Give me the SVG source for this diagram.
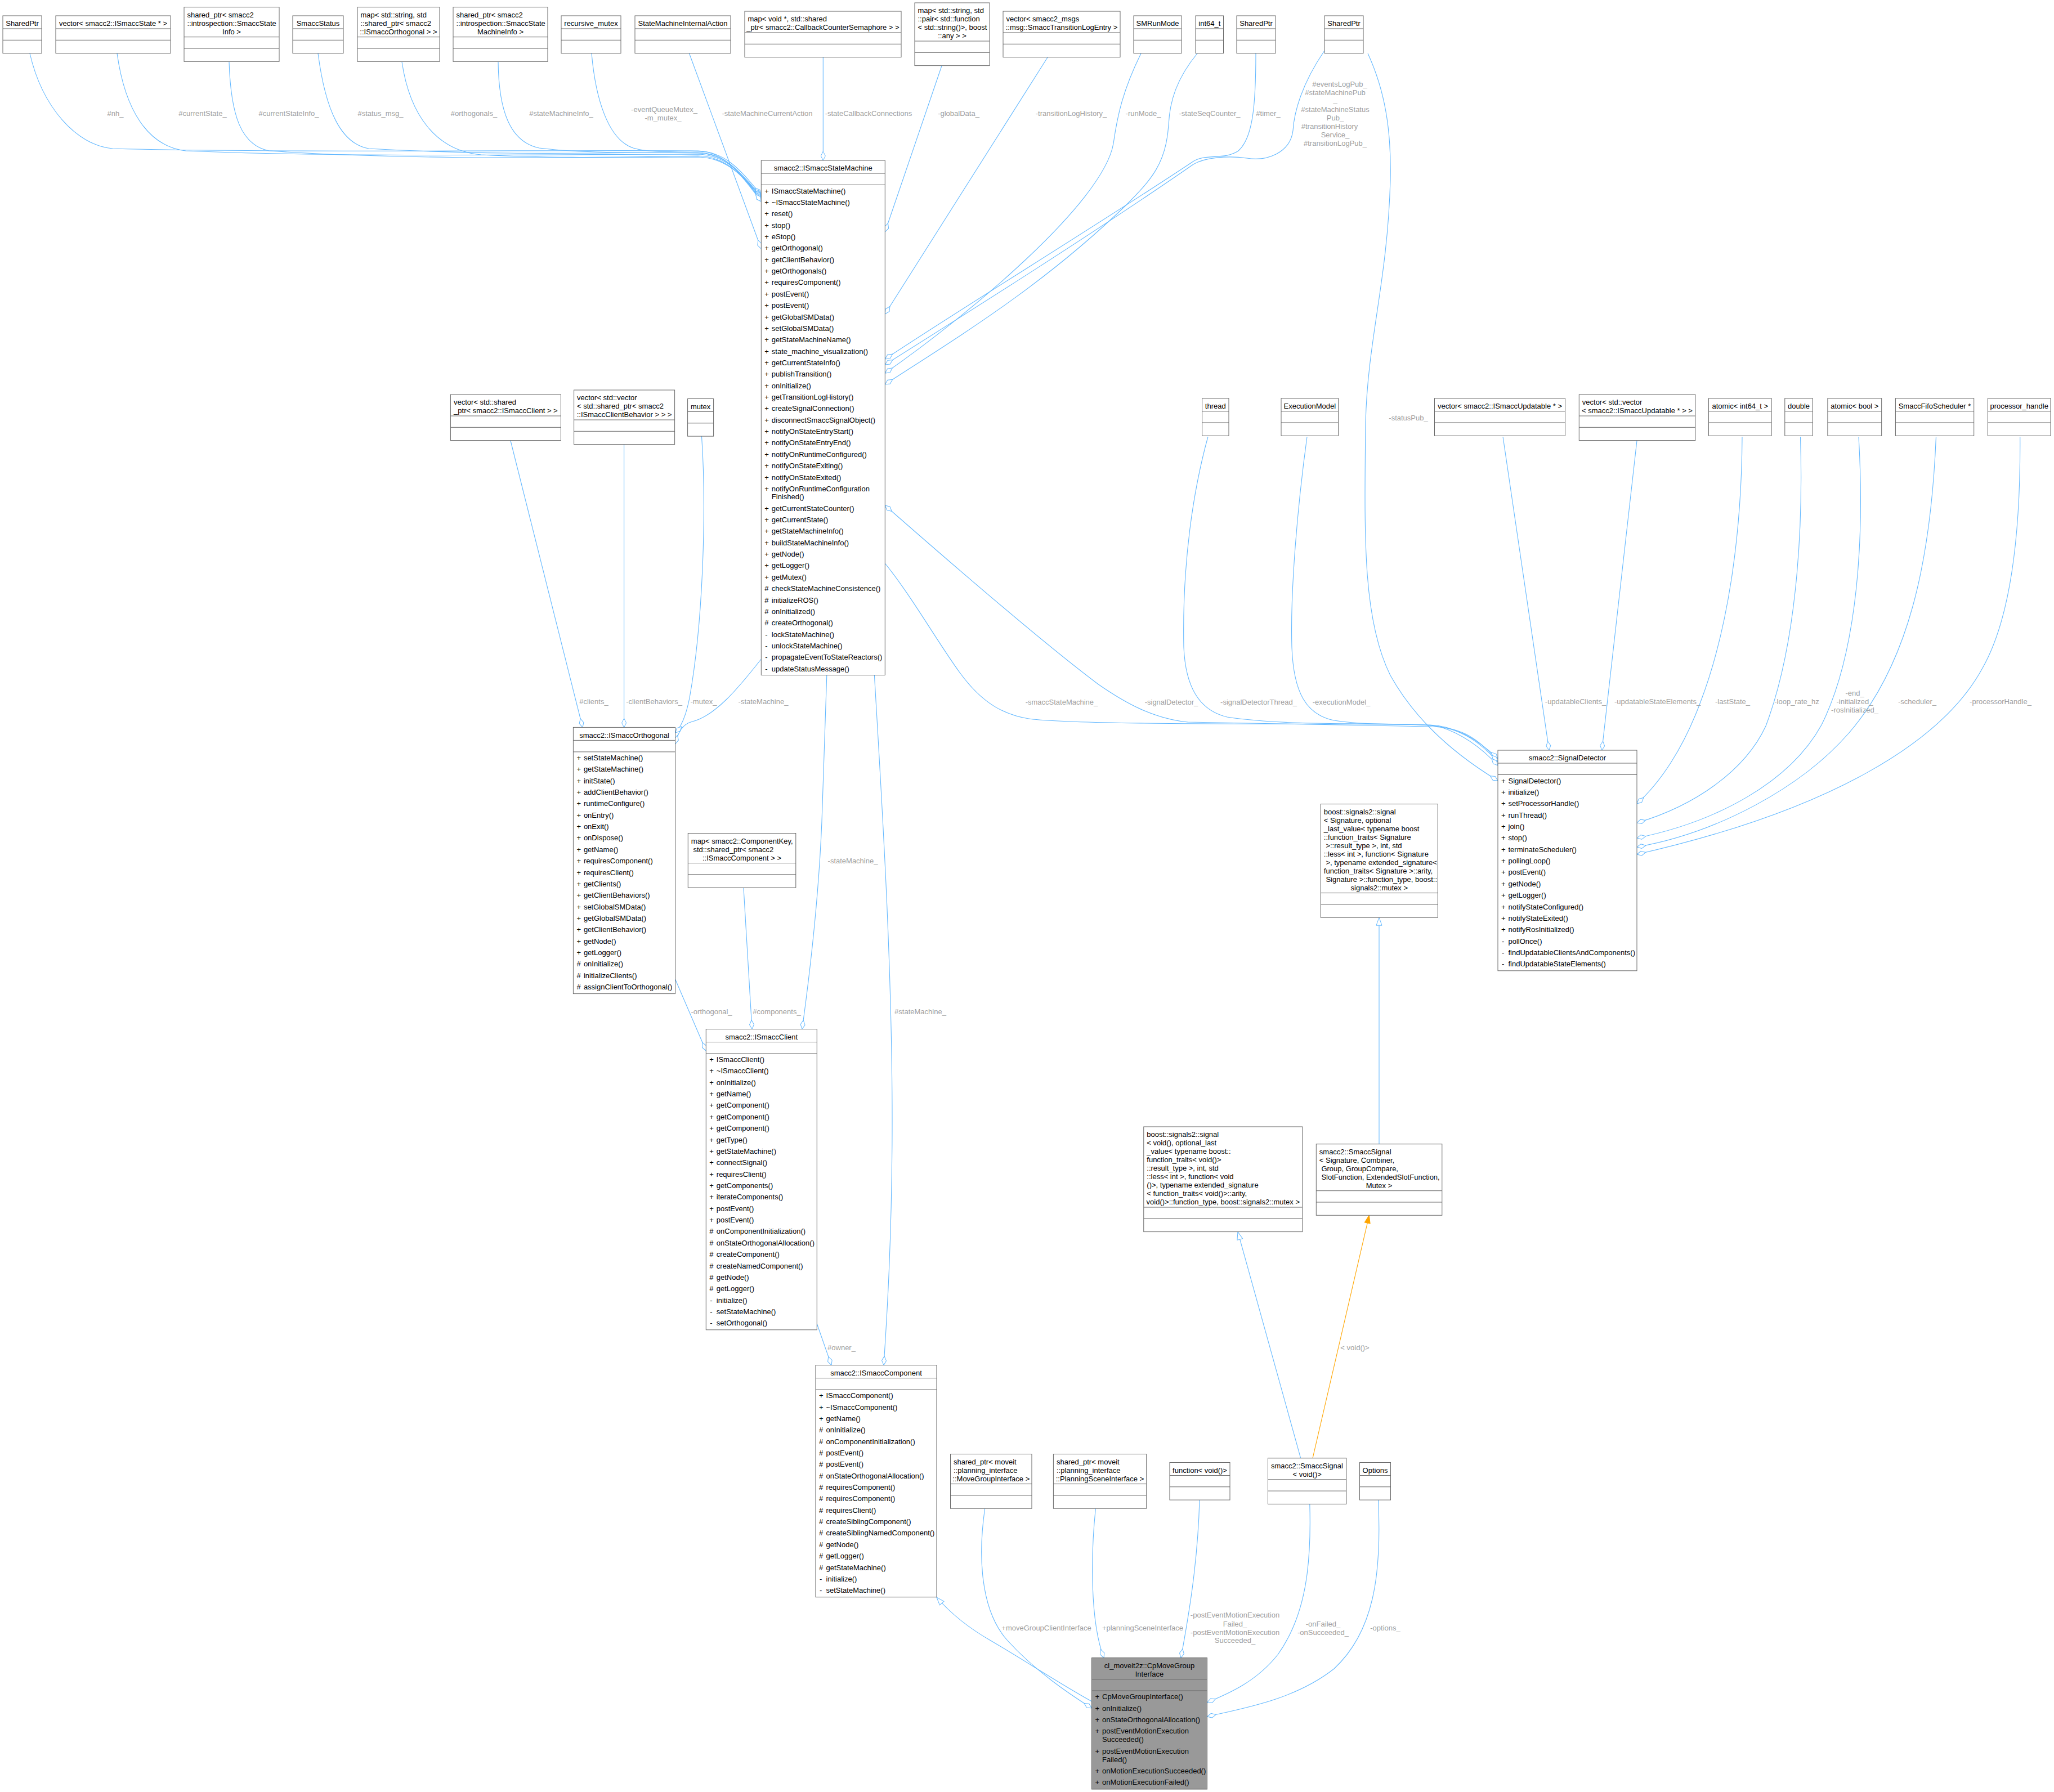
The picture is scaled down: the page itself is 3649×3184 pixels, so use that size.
<svg xmlns="http://www.w3.org/2000/svg" width="3649" height="3184" viewBox="0 0 3649 3184">
<style>
.b{fill:#fff;stroke:#666;stroke-width:1}
.m{fill:#999;stroke:#666;stroke-width:1}
.s{fill:none;stroke:#666;stroke-width:1}
text{font-family:"Liberation Sans",Arial,sans-serif;font-size:13px;fill:#000}
.c{text-anchor:middle}
.lb{fill:#9e9e9e;text-anchor:middle}
.e{fill:none;stroke:#63b8ff;stroke-width:1.1;marker-end:url(#d)}
.i{fill:none;stroke:#63b8ff;stroke-width:1.1;marker-end:url(#t)}
.o{fill:none;stroke:#ffa500;stroke-width:1.1;marker-end:url(#to)}
</style>
<defs>
<marker id="d" viewBox="0 0 18 10" refX="17" refY="5" markerWidth="18" markerHeight="10" orient="auto" markerUnits="userSpaceOnUse" overflow="visible"><path d="M1,5 L9,1 L17,5 L9,9 Z" fill="#fff" stroke="#63b8ff" stroke-width="1"/></marker>
<marker id="t" viewBox="0 0 16 12" refX="15" refY="6" markerWidth="16" markerHeight="12" orient="auto" markerUnits="userSpaceOnUse" overflow="visible"><path d="M1,1 L15,6 L1,11 Z" fill="#fff" stroke="#63b8ff" stroke-width="1"/></marker>
<marker id="to" viewBox="0 0 16 12" refX="15" refY="6" markerWidth="16" markerHeight="12" orient="auto" markerUnits="userSpaceOnUse" overflow="visible"><path d="M1,1 L15,6 L1,11 Z" fill="#ffa500" stroke="#ffa500" stroke-width="1"/></marker>
</defs>
<rect width="3649" height="3184" fill="#fff"/>

<g id="edges">
<path class="e" d="M53,95 C75,190 135,258 200,264 C500,272 1000,266 1240,268 C1295,270 1322,312 1352.3,346"/>
<path class="e" d="M208,95 C222,195 262,260 330,268 C600,280 1000,274 1240,274 C1295,276 1322,316 1352.3,348"/>
<path class="e" d="M407,110 C410,205 428,258 478,268 C700,284 1000,280 1240,279 C1295,280 1322,318 1352.3,350"/>
<path class="e" d="M565,95 C578,195 605,255 655,264 C900,278 1100,270 1240,271 C1295,272 1322,316 1352.3,352"/>
<path class="e" d="M714,110 C728,205 775,268 855,275 C1000,283 1150,278 1240,277 C1295,278 1322,318 1352.3,354"/>
<path class="e" d="M885,110 C886,195 905,252 958,263 C1050,274 1150,270 1240,272 C1295,273 1322,317 1352.3,356"/>
<path class="e" d="M1051,95 C1058,175 1080,248 1125,263 C1170,276 1220,264 1255,270 C1295,278 1322,318 1352.3,358"/>
<path class="e" d="M1224.5,95 L1352.3,442"/>
<path class="e" d="M1462.3,102 L1462.3,285"/>
<path class="e" d="M1673,117 L1572.3,412"/>
<path class="e" d="M1861,102 L1572.3,558"/>
<path class="e" d="M2027,95 C1995,160 1985,205 1978,255 C1960,360 1720,560 1572.3,663"/>
<path class="e" d="M2127,95 C2090,140 2078,180 2076,222 C2072,290 2045,320 2000,365 C1850,510 1700,600 1572.3,683"/>
<path class="e" d="M2231,95 C2231,185 2226,245 2200,268 C2175,285 2140,272 2118,288 C1950,400 1720,540 1572.3,638"/>
<path class="e" d="M2353,90 C2312,150 2299,200 2297,232 C2292,272 2250,287 2215,281 C2180,276 2140,280 2120,292 C1950,410 1720,555 1572.3,648"/>
<path class="e" d="M2661,1352 C2620,1305 2590,1292 2540,1291 L2110,1283 C2050,1277 2000,1250 1950,1215 C1850,1140 1700,1010 1572.3,898"/>
<path class="e" d="M1572.3,1001 C1620,1060 1665,1140 1705,1195 C1745,1250 1785,1272 1835,1278 C1950,1290 2400,1284 2540,1288 C2590,1290 2630,1318 2661,1348"/>
<path class="e" d="M2146,776 C2120,870 2100,1000 2103,1150 C2106,1220 2130,1262 2180,1274 C2300,1292 2450,1282 2540,1289 C2600,1293 2635,1325 2661,1354"/>
<path class="e" d="M2322,776 C2305,900 2292,1050 2295,1150 C2298,1230 2320,1270 2370,1280 C2450,1292 2520,1282 2560,1292 C2600,1305 2635,1332 2661,1360"/>
<path class="e" d="M2430,95 C2460,160 2472,230 2470,320 C2465,500 2430,600 2426,750 C2424,950 2420,1100 2470,1200 C2520,1290 2600,1350 2661,1387"/>
<path class="e" d="M2670,776 L2752,1333"/>
<path class="e" d="M2908,783 L2845.8,1333"/>
<path class="e" d="M3095,776 C3094,950 3070,1120 3020,1250 C2990,1330 2950,1390 2908,1428"/>
<path class="e" d="M3198.5,776 C3204,950 3190,1150 3137,1290 C3100,1370 3010,1432 2908,1462"/>
<path class="e" d="M3302,776 C3315,1000 3290,1180 3236,1288 C3180,1390 3050,1460 2908,1489"/>
<path class="e" d="M3439.5,776 C3430,1000 3390,1180 3285,1302 C3200,1400 3050,1480 2908,1505"/>
<path class="e" d="M3588.7,776 C3590,1000 3560,1120 3522,1187 C3450,1320 3250,1440 2908,1518"/>
<path class="e" d="M907,783 L1035,1292.4"/>
<path class="e" d="M1108.6,790 L1108.6,1292.4"/>
<path class="e" d="M1246.5,775 C1255,900 1250,1100 1225,1240 C1218,1275 1210,1292 1199.6,1302"/>
<path class="e" d="M1352.3,1171 C1310,1225 1270,1272 1230,1282 C1212,1287 1205,1300 1199.6,1322"/>
<path class="e" d="M1199.6,1740 L1254.3,1867"/>
<path class="e" d="M1321,1578 L1336,1828.5"/>
<path class="e" d="M1468.8,1199.5 L1460,1460 C1455,1580 1440,1720 1425,1828.5"/>
<path class="e" d="M1553.4,1199.5 C1565,1400 1585,1700 1585,1990 C1585,2200 1575,2350 1570,2425.6"/>
<path class="e" d="M1451.3,2352 L1477,2425.6"/>
<path class="i" d="M1939.5,3023 C1880,2990 1820,2950 1760,2915 C1720,2892 1690,2868 1664,2838"/>
<path class="e" d="M1749.7,2680.2 C1738,2760 1740,2860 1790,2915 C1840,2970 1900,3010 1939.5,3035"/>
<path class="e" d="M1946.4,2680.2 C1938,2760 1936,2880 1961,2945.6"/>
<path class="e" d="M2131,2665 C2128,2780 2110,2880 2098,2945.6"/>
<path class="e" d="M2326.8,2672.4 C2330,2780 2320,2870 2270,2940 C2230,2990 2180,3010 2144.6,3025"/>
<path class="e" d="M2448.5,2665 C2455,2800 2440,2900 2370,2965 C2300,3020 2210,3035 2144.6,3050"/>
<path class="o" d="M2332,2590.8 L2432.4,2159.3"/>
<path class="i" d="M2310.7,2590.8 L2199,2188.6"/>
<path class="i" d="M2450,2032.7 L2450,1630.2"/>
<text class="lb" x="205" y="206">#nh_</text>
<text class="lb" x="360" y="206">#currentState_</text>
<text class="lb" x="513" y="206">#currentStateInfo_</text>
<text class="lb" x="676" y="206">#status_msg_</text>
<text class="lb" x="842" y="206">#orthogonals_</text>
<text class="lb" x="997" y="206">#stateMachineInfo_</text>
<text class="lb" x="1180" y="198.5">-eventQueueMutex_</text>
<text class="lb" x="1178" y="213.5">-m_mutex_</text>
<text class="lb" x="1363" y="206">-stateMachineCurrentAction</text>
<text class="lb" x="1543" y="206">-stateCallbackConnections</text>
<text class="lb" x="1703" y="206">-globalData_</text>
<text class="lb" x="1903" y="206">-transitionLogHistory_</text>
<text class="lb" x="2031" y="206">-runMode_</text>
<text class="lb" x="2149" y="206">-stateSeqCounter_</text>
<text class="lb" x="2253" y="206">#timer_</text>
<text class="lb" x="2380" y="153.5">#eventsLogPub_</text>
<text class="lb" x="2372" y="168.5">#stateMachinePub</text>
<text class="lb" x="2372" y="181.5">_</text>
<text class="lb" x="2372" y="198.5">#stateMachineStatus</text>
<text class="lb" x="2372" y="213.5">Pub_</text>
<text class="lb" x="2362" y="228.5">#transitionHistory</text>
<text class="lb" x="2372" y="243.5">Service_</text>
<text class="lb" x="2372" y="258.5">#transitionLogPub_</text>
<text class="lb" x="1055" y="1250.5">#clients_</text>
<text class="lb" x="1162" y="1250.5">-clientBehaviors_</text>
<text class="lb" x="1250" y="1250.5">-mutex_</text>
<text class="lb" x="1356" y="1250.5">-stateMachine_</text>
<text class="lb" x="1886" y="1251.5">-smaccStateMachine_</text>
<text class="lb" x="2081" y="1251.5">-signalDetector_</text>
<text class="lb" x="2236" y="1251.5">-signalDetectorThread_</text>
<text class="lb" x="2383" y="1251.5">-executionModel_</text>
<text class="lb" x="2502" y="747.4">-statusPub_</text>
<text class="lb" x="2799" y="1251">-updatableClients_</text>
<text class="lb" x="2944.6" y="1251">-updatableStateElements_</text>
<text class="lb" x="3078" y="1251">-lastState_</text>
<text class="lb" x="3192" y="1251">-loop_rate_hz</text>
<text class="lb" x="3295" y="1236">-end_</text>
<text class="lb" x="3295" y="1251">-initialized_</text>
<text class="lb" x="3295" y="1266">-rosInitialized_</text>
<text class="lb" x="3406" y="1251">-scheduler_</text>
<text class="lb" x="3554" y="1251">-processorHandle_</text>
<text class="lb" x="1515" y="1533.5">-stateMachine_</text>
<text class="lb" x="1264" y="1802">-orthogonal_</text>
<text class="lb" x="1380" y="1802">#components_</text>
<text class="lb" x="1635" y="1802">#stateMachine_</text>
<text class="lb" x="1495" y="2398.5">#owner_</text>
<text class="lb" x="2407" y="2399">&lt; void()&gt;</text>
<text class="lb" x="1859" y="2897.3">+moveGroupClientInterface</text>
<text class="lb" x="2030" y="2897.3">+planningSceneInterface</text>
<text class="lb" x="2194" y="2874.2">-postEventMotionExecution</text>
<text class="lb" x="2194" y="2889.5">Failed_</text>
<text class="lb" x="2194" y="2904.5">-postEventMotionExecution</text>
<text class="lb" x="2194" y="2919.4">Succeeded_</text>
<text class="lb" x="2350.5" y="2889.5">-onFailed_</text>
<text class="lb" x="2350.5" y="2904.5">-onSucceeded_</text>
<text class="lb" x="2461" y="2897.3">-options_</text>
</g>

<g id="n1"><rect class="b" x="5" y="28" width="69" height="66.6"/><path class="s" d="M5,51h69M5,71.3h69"/><text class="c" x="39.5" y="46.3">SharedPtr</text></g>
<g id="n2"><rect class="b" x="99" y="28" width="204" height="66.6"/><path class="s" d="M99,51h204M99,71.3h204"/><text class="c" x="201" y="46.3">vector&lt; smacc2::ISmaccState * &gt;</text></g>
<g id="n3"><rect class="b" x="327" y="12.7" width="169" height="96.6"/><path class="s" d="M327,65.7h169M327,86h169"/><text x="332.5" y="31">shared_ptr&lt; smacc2</text><text x="332.5" y="46">::introspection::SmaccState</text><text class="c" x="411.5" y="61">Info &gt;</text></g>
<g id="n4"><rect class="b" x="520" y="28" width="90" height="66.6"/><path class="s" d="M520,51h90M520,71.3h90"/><text class="c" x="565" y="46.3">SmaccStatus</text></g>
<g id="n5"><rect class="b" x="635" y="12.7" width="146" height="96.6"/><path class="s" d="M635,65.7h146M635,86h146"/><text x="640.5" y="31">map&lt; std::string, std</text><text x="640.5" y="46">::shared_ptr&lt; smacc2</text><text class="c" x="708" y="61">::ISmaccOrthogonal &gt; &gt;</text></g>
<g id="n6"><rect class="b" x="805" y="12.7" width="168" height="96.6"/><path class="s" d="M805,65.7h168M805,86h168"/><text x="810.5" y="31">shared_ptr&lt; smacc2</text><text x="810.5" y="46">::introspection::SmaccState</text><text class="c" x="889" y="61">MachineInfo &gt;</text></g>
<g id="n7"><rect class="b" x="997" y="28" width="106" height="66.6"/><path class="s" d="M997,51h106M997,71.3h106"/><text class="c" x="1050" y="46.3">recursive_mutex</text></g>
<g id="n8"><rect class="b" x="1128" y="28" width="170" height="66.6"/><path class="s" d="M1128,51h170M1128,71.3h170"/><text class="c" x="1213" y="46.3">StateMachineInternalAction</text></g>
<g id="n9"><rect class="b" x="1323" y="20" width="278" height="81.6"/><path class="s" d="M1323,58h278M1323,78.3h278"/><text x="1328.5" y="38.3">map&lt; void *, std::shared</text><text class="c" x="1462" y="53.3">_ptr&lt; smacc2::CallbackCounterSemaphore &gt; &gt;</text></g>
<g id="n10"><rect class="b" x="1625" y="5" width="133" height="111.6"/><path class="s" d="M1625,73h133M1625,93.3h133"/><text x="1630.5" y="23.3">map&lt; std::string, std</text><text x="1630.5" y="38.3">::pair&lt; std::function</text><text x="1630.5" y="53.3">&lt; std::string()&gt;, boost</text><text class="c" x="1691.5" y="68.3">::any &gt; &gt;</text></g>
<g id="n11"><rect class="b" x="1782" y="20" width="208" height="81.6"/><path class="s" d="M1782,58h208M1782,78.3h208"/><text x="1787.5" y="38.3">vector&lt; smacc2_msgs</text><text class="c" x="1886" y="53.3">::msg::SmaccTransitionLogEntry &gt;</text></g>
<g id="n12"><rect class="b" x="2014" y="28" width="85" height="66.6"/><path class="s" d="M2014,51h85M2014,71.3h85"/><text class="c" x="2056.5" y="46.3">SMRunMode</text></g>
<g id="n13"><rect class="b" x="2124" y="28" width="49.5" height="66.6"/><path class="s" d="M2124,51h49.5M2124,71.3h49.5"/><text class="c" x="2148.8" y="46.3">int64_t</text></g>
<g id="n14"><rect class="b" x="2197" y="28" width="69" height="66.6"/><path class="s" d="M2197,51h69M2197,71.3h69"/><text class="c" x="2231.5" y="46.3">SharedPtr</text></g>
<g id="n15"><rect class="b" x="2353" y="28" width="69" height="66.6"/><path class="s" d="M2353,51h69M2353,71.3h69"/><text class="c" x="2387.5" y="46.3">SharedPtr</text></g>

<g id="n16"><rect class="b" x="1352.3" y="285" width="220" height="914.5"/><path class="s" d="M1352.3,308h220M1352.3,328.4h220"/><text class="c" x="1462.3" y="303.3">smacc2::ISmaccStateMachine</text>
<text x="1358.3" y="343.5">+<tspan x="1370.8">ISmaccStateMachine()</tspan></text>
<text x="1358.3" y="363.9">+<tspan x="1370.8">~ISmaccStateMachine()</tspan></text>
<text x="1358.3" y="384.2">+<tspan x="1370.8">reset()</tspan></text>
<text x="1358.3" y="404.6">+<tspan x="1370.8">stop()</tspan></text>
<text x="1358.3" y="424.9">+<tspan x="1370.8">eStop()</tspan></text>
<text x="1358.3" y="445.3">+<tspan x="1370.8">getOrthogonal()</tspan></text>
<text x="1358.3" y="465.7">+<tspan x="1370.8">getClientBehavior()</tspan></text>
<text x="1358.3" y="486">+<tspan x="1370.8">getOrthogonals()</tspan></text>
<text x="1358.3" y="506.4">+<tspan x="1370.8">requiresComponent()</tspan></text>
<text x="1358.3" y="526.7">+<tspan x="1370.8">postEvent()</tspan></text>
<text x="1358.3" y="547.1">+<tspan x="1370.8">postEvent()</tspan></text>
<text x="1358.3" y="567.5">+<tspan x="1370.8">getGlobalSMData()</tspan></text>
<text x="1358.3" y="587.8">+<tspan x="1370.8">setGlobalSMData()</tspan></text>
<text x="1358.3" y="608.2">+<tspan x="1370.8">getStateMachineName()</tspan></text>
<text x="1358.3" y="628.5">+<tspan x="1370.8">state_machine_visualization()</tspan></text>
<text x="1358.3" y="648.9">+<tspan x="1370.8">getCurrentStateInfo()</tspan></text>
<text x="1358.3" y="669.3">+<tspan x="1370.8">publishTransition()</tspan></text>
<text x="1358.3" y="689.6">+<tspan x="1370.8">onInitialize()</tspan></text>
<text x="1358.3" y="710">+<tspan x="1370.8">getTransitionLogHistory()</tspan></text>
<text x="1358.3" y="730.3">+<tspan x="1370.8">createSignalConnection()</tspan></text>
<text x="1358.3" y="750.7">+<tspan x="1370.8">disconnectSmaccSignalObject()</tspan></text>
<text x="1358.3" y="771.1">+<tspan x="1370.8">notifyOnStateEntryStart()</tspan></text>
<text x="1358.3" y="791.4">+<tspan x="1370.8">notifyOnStateEntryEnd()</tspan></text>
<text x="1358.3" y="811.8">+<tspan x="1370.8">notifyOnRuntimeConfigured()</tspan></text>
<text x="1358.3" y="832.1">+<tspan x="1370.8">notifyOnStateExiting()</tspan></text>
<text x="1358.3" y="852.5">+<tspan x="1370.8">notifyOnStateExited()</tspan></text>
<text x="1358.3" y="872.9">+<tspan x="1370.8">notifyOnRuntimeConfiguration</tspan><tspan x="1370.8" y="887.3">Finished()</tspan></text>
<text x="1358.3" y="907.6">+<tspan x="1370.8">getCurrentStateCounter()</tspan></text>
<text x="1358.3" y="928">+<tspan x="1370.8">getCurrentState()</tspan></text>
<text x="1358.3" y="948.3">+<tspan x="1370.8">getStateMachineInfo()</tspan></text>
<text x="1358.3" y="968.7">+<tspan x="1370.8">buildStateMachineInfo()</tspan></text>
<text x="1358.3" y="989.1">+<tspan x="1370.8">getNode()</tspan></text>
<text x="1358.3" y="1009.4">+<tspan x="1370.8">getLogger()</tspan></text>
<text x="1358.3" y="1029.8">+<tspan x="1370.8">getMutex()</tspan></text>
<text x="1358.3" y="1050.1">#<tspan x="1370.8">checkStateMachineConsistence()</tspan></text>
<text x="1358.3" y="1070.5">#<tspan x="1370.8">initializeROS()</tspan></text>
<text x="1358.3" y="1090.9">#<tspan x="1370.8">onInitialized()</tspan></text>
<text x="1358.3" y="1111.2">#<tspan x="1370.8">createOrthogonal()</tspan></text>
<text x="1359.3" y="1131.6">-<tspan x="1370.8">lockStateMachine()</tspan></text>
<text x="1359.3" y="1151.9">-<tspan x="1370.8">unlockStateMachine()</tspan></text>
<text x="1359.3" y="1172.3">-<tspan x="1370.8">propagateEventToStateReactors()</tspan></text>
<text x="1359.3" y="1192.7">-<tspan x="1370.8">updateStatusMessage()</tspan></text>
</g>

<g id="n17"><rect class="b" x="800.4" y="701" width="196" height="81.6"/><path class="s" d="M800.4,739h196M800.4,759.3h196"/><text x="806" y="719.3">vector&lt; std::shared</text><text class="c" x="898.4" y="734.3">_ptr&lt; smacc2::ISmaccClient &gt; &gt;</text></g>
<g id="n18"><rect class="b" x="1019.6" y="693" width="179" height="96.6"/><path class="s" d="M1019.6,746h179M1019.6,766.3h179"/><text x="1025" y="711.3">vector&lt; std::vector</text><text x="1025" y="726.3">&lt; std::shared_ptr&lt; smacc2</text><text class="c" x="1109.1" y="741.3">::ISmaccClientBehavior &gt; &gt; &gt;</text></g>
<g id="n19"><rect class="b" x="1221.6" y="708.5" width="46" height="66.6"/><path class="s" d="M1221.6,731.5h46M1221.6,751.8h46"/><text class="c" x="1244.6" y="726.8">mutex</text></g>

<g id="n20"><rect class="b" x="1018.4" y="1292.4" width="181.2" height="473.2"/><path class="s" d="M1018.4,1315.4h181.2M1018.4,1335.9h181.2"/><text class="c" x="1109" y="1310.7">smacc2::ISmaccOrthogonal</text>
<text x="1024.4" y="1350.9">+<tspan x="1036.9">setStateMachine()</tspan></text>
<text x="1024.4" y="1371.3">+<tspan x="1036.9">getStateMachine()</tspan></text>
<text x="1024.4" y="1391.6">+<tspan x="1036.9">initState()</tspan></text>
<text x="1024.4" y="1412">+<tspan x="1036.9">addClientBehavior()</tspan></text>
<text x="1024.4" y="1432.3">+<tspan x="1036.9">runtimeConfigure()</tspan></text>
<text x="1024.4" y="1452.7">+<tspan x="1036.9">onEntry()</tspan></text>
<text x="1024.4" y="1473.1">+<tspan x="1036.9">onExit()</tspan></text>
<text x="1024.4" y="1493.4">+<tspan x="1036.9">onDispose()</tspan></text>
<text x="1024.4" y="1513.8">+<tspan x="1036.9">getName()</tspan></text>
<text x="1024.4" y="1534.1">+<tspan x="1036.9">requiresComponent()</tspan></text>
<text x="1024.4" y="1554.5">+<tspan x="1036.9">requiresClient()</tspan></text>
<text x="1024.4" y="1574.9">+<tspan x="1036.9">getClients()</tspan></text>
<text x="1024.4" y="1595.2">+<tspan x="1036.9">getClientBehaviors()</tspan></text>
<text x="1024.4" y="1615.6">+<tspan x="1036.9">setGlobalSMData()</tspan></text>
<text x="1024.4" y="1635.9">+<tspan x="1036.9">getGlobalSMData()</tspan></text>
<text x="1024.4" y="1656.3">+<tspan x="1036.9">getClientBehavior()</tspan></text>
<text x="1024.4" y="1676.7">+<tspan x="1036.9">getNode()</tspan></text>
<text x="1024.4" y="1697">+<tspan x="1036.9">getLogger()</tspan></text>
<text x="1024.4" y="1717.4">#<tspan x="1036.9">onInitialize()</tspan></text>
<text x="1024.4" y="1737.7">#<tspan x="1036.9">initializeClients()</tspan></text>
<text x="1024.4" y="1758.1">#<tspan x="1036.9">assignClientToOrthogonal()</tspan></text>
</g>

<g id="n21"><rect class="b" x="1222.3" y="1480.5" width="191.5" height="96.6"/><path class="s" d="M1222.3,1533.5h191.5M1222.3,1553.8h191.5"/><text x="1227.8" y="1498.8">map&lt; smacc2::ComponentKey,</text><text x="1227.8" y="1513.8">&#160;std::shared_ptr&lt; smacc2</text><text class="c" x="1318" y="1528.8">::ISmaccComponent &gt; &gt;</text></g>

<g id="n22"><rect class="b" x="1254.3" y="1828.5" width="197" height="534.3"/><path class="s" d="M1254.3,1851.5h197M1254.3,1872h197"/><text class="c" x="1352.8" y="1846.8">smacc2::ISmaccClient</text>
<text x="1260.3" y="1887">+<tspan x="1272.8">ISmaccClient()</tspan></text>
<text x="1260.3" y="1907.4">+<tspan x="1272.8">~ISmaccClient()</tspan></text>
<text x="1260.3" y="1927.7">+<tspan x="1272.8">onInitialize()</tspan></text>
<text x="1260.3" y="1948.1">+<tspan x="1272.8">getName()</tspan></text>
<text x="1260.3" y="1968.4">+<tspan x="1272.8">getComponent()</tspan></text>
<text x="1260.3" y="1988.8">+<tspan x="1272.8">getComponent()</tspan></text>
<text x="1260.3" y="2009.2">+<tspan x="1272.8">getComponent()</tspan></text>
<text x="1260.3" y="2029.5">+<tspan x="1272.8">getType()</tspan></text>
<text x="1260.3" y="2049.9">+<tspan x="1272.8">getStateMachine()</tspan></text>
<text x="1260.3" y="2070.2">+<tspan x="1272.8">connectSignal()</tspan></text>
<text x="1260.3" y="2090.6">+<tspan x="1272.8">requiresClient()</tspan></text>
<text x="1260.3" y="2111">+<tspan x="1272.8">getComponents()</tspan></text>
<text x="1260.3" y="2131.3">+<tspan x="1272.8">iterateComponents()</tspan></text>
<text x="1260.3" y="2151.7">+<tspan x="1272.8">postEvent()</tspan></text>
<text x="1260.3" y="2172">+<tspan x="1272.8">postEvent()</tspan></text>
<text x="1260.3" y="2192.4">#<tspan x="1272.8">onComponentInitialization()</tspan></text>
<text x="1260.3" y="2212.8">#<tspan x="1272.8">onStateOrthogonalAllocation()</tspan></text>
<text x="1260.3" y="2233.1">#<tspan x="1272.8">createComponent()</tspan></text>
<text x="1260.3" y="2253.5">#<tspan x="1272.8">createNamedComponent()</tspan></text>
<text x="1260.3" y="2273.8">#<tspan x="1272.8">getNode()</tspan></text>
<text x="1260.3" y="2294.2">#<tspan x="1272.8">getLogger()</tspan></text>
<text x="1261.3" y="2314.6">-<tspan x="1272.8">initialize()</tspan></text>
<text x="1261.3" y="2334.9">-<tspan x="1272.8">setStateMachine()</tspan></text>
<text x="1261.3" y="2355.3">-<tspan x="1272.8">setOrthogonal()</tspan></text>
</g>

<g id="n23"><rect class="b" x="1449" y="2425.6" width="215" height="412.1"/><path class="s" d="M1449,2448.6h215M1449,2469.1h215"/><text class="c" x="1556.5" y="2443.9">smacc2::ISmaccComponent</text>
<text x="1455" y="2484.1">+<tspan x="1467.5">ISmaccComponent()</tspan></text>
<text x="1455" y="2504.5">+<tspan x="1467.5">~ISmaccComponent()</tspan></text>
<text x="1455" y="2524.8">+<tspan x="1467.5">getName()</tspan></text>
<text x="1455" y="2545.2">#<tspan x="1467.5">onInitialize()</tspan></text>
<text x="1455" y="2565.5">#<tspan x="1467.5">onComponentInitialization()</tspan></text>
<text x="1455" y="2585.9">#<tspan x="1467.5">postEvent()</tspan></text>
<text x="1455" y="2606.3">#<tspan x="1467.5">postEvent()</tspan></text>
<text x="1455" y="2626.6">#<tspan x="1467.5">onStateOrthogonalAllocation()</tspan></text>
<text x="1455" y="2647">#<tspan x="1467.5">requiresComponent()</tspan></text>
<text x="1455" y="2667.3">#<tspan x="1467.5">requiresComponent()</tspan></text>
<text x="1455" y="2687.7">#<tspan x="1467.5">requiresClient()</tspan></text>
<text x="1455" y="2708.1">#<tspan x="1467.5">createSiblingComponent()</tspan></text>
<text x="1455" y="2728.4">#<tspan x="1467.5">createSiblingNamedComponent()</tspan></text>
<text x="1455" y="2748.8">#<tspan x="1467.5">getNode()</tspan></text>
<text x="1455" y="2769.1">#<tspan x="1467.5">getLogger()</tspan></text>
<text x="1455" y="2789.5">#<tspan x="1467.5">getStateMachine()</tspan></text>
<text x="1456" y="2809.9">-<tspan x="1467.5">initialize()</tspan></text>
<text x="1456" y="2830.2">-<tspan x="1467.5">setStateMachine()</tspan></text>
</g>

<g id="n24"><rect class="b" x="1688.5" y="2583.6" width="144.5" height="96.6"/><path class="s" d="M1688.5,2636.6h144.5M1688.5,2656.9h144.5"/><text x="1694" y="2601.9">shared_ptr&lt; moveit</text><text x="1694" y="2616.9">::planning_interface</text><text class="c" x="1760.8" y="2631.9">::MoveGroupInterface &gt;</text></g>
<g id="n25"><rect class="b" x="1871.4" y="2583.6" width="165.3" height="96.6"/><path class="s" d="M1871.4,2636.6h165.3M1871.4,2656.9h165.3"/><text x="1877" y="2601.9">shared_ptr&lt; moveit</text><text x="1877" y="2616.9">::planning_interface</text><text class="c" x="1954" y="2631.9">::PlanningSceneInterface &gt;</text></g>
<g id="n26"><rect class="b" x="2078" y="2598.5" width="107" height="66.6"/><path class="s" d="M2078,2621.5h107M2078,2641.8h107"/><text class="c" x="2131.5" y="2616.8">function&lt; void()&gt;</text></g>
<g id="n27"><rect class="b" x="2252.5" y="2590.8" width="139.3" height="81.6"/><path class="s" d="M2252.5,2628.8h139.3M2252.5,2649.1h139.3"/><text x="2258" y="2609.1">smacc2::SmaccSignal</text><text class="c" x="2322.2" y="2624.1">&lt; void()&gt;</text></g>
<g id="n28"><rect class="b" x="2415.5" y="2598.5" width="55" height="66.6"/><path class="s" d="M2415.5,2621.5h55M2415.5,2641.8h55"/><text class="c" x="2443" y="2616.8">Options</text></g>

<g id="n29"><rect class="m" x="1939.5" y="2945.6" width="205" height="233.4"/><path class="s" d="M1939.5,2983.6h205M1939.5,3004h205"/><text class="c" x="2042" y="2963.9">cl_moveit2z::CpMoveGroup</text><text class="c" x="2042" y="2978.9">Interface</text>
<text x="1945.5" y="3019.4">+<tspan x="1958">CpMoveGroupInterface()</tspan></text>
<text x="1945.5" y="3039.9">+<tspan x="1958">onInitialize()</tspan></text>
<text x="1945.5" y="3060.4">+<tspan x="1958">onStateOrthogonalAllocation()</tspan></text>
<text x="1945.5" y="3080.4">+<tspan x="1958">postEventMotionExecution</tspan><tspan x="1958" y="3095.3">Succeeded()</tspan></text>
<text x="1945.5" y="3115.8">+<tspan x="1958">postEventMotionExecution</tspan><tspan x="1958" y="3130.7">Failed()</tspan></text>
<text x="1945.5" y="3151.2">+<tspan x="1958">onMotionExecutionSucceeded()</tspan></text>
<text x="1945.5" y="3171.2">+<tspan x="1958">onMotionExecutionFailed()</tspan></text>
</g>

<g id="n30"><rect class="b" x="2346.3" y="1428.6" width="208" height="201.6"/><path class="s" d="M2346.3,1586.6h208M2346.3,1606.9h208"/>
<text x="2351.8" y="1446.9">boost::signals2::signal</text>
<text x="2351.8" y="1461.9">&lt; Signature, optional</text>
<text x="2351.8" y="1476.9">_last_value&lt; typename boost</text>
<text x="2351.8" y="1491.9">::function_traits&lt; Signature</text>
<text x="2351.8" y="1506.9">&#160;&gt;::result_type &gt;, int, std</text>
<text x="2351.8" y="1521.9">::less&lt; int &gt;, function&lt; Signature</text>
<text x="2351.8" y="1536.9">&#160;&gt;, typename extended_signature&lt;</text>
<text x="2351.8" y="1551.9">function_traits&lt; Signature &gt;::arity,</text>
<text x="2351.8" y="1566.9">&#160;Signature &gt;::function_type, boost::</text>
<text class="c" x="2450.3" y="1581.9">signals2::mutex &gt;</text>
</g>
<g id="n31"><rect class="b" x="2031.8" y="2002" width="282" height="186.6"/><path class="s" d="M2031.8,2145h282M2031.8,2165.3h282"/>
<text x="2037.3" y="2020.3">boost::signals2::signal</text>
<text x="2037.3" y="2035.3">&lt; void(), optional_last</text>
<text x="2037.3" y="2050.3">_value&lt; typename boost::</text>
<text x="2037.3" y="2065.3">function_traits&lt; void()&gt;</text>
<text x="2037.3" y="2080.3">::result_type &gt;, int, std</text>
<text x="2037.3" y="2095.3">::less&lt; int &gt;, function&lt; void</text>
<text x="2037.3" y="2110.3">()&gt;, typename extended_signature</text>
<text x="2037.3" y="2125.3">&lt; function_traits&lt; void()&gt;::arity,</text>
<text class="c" x="2172.8" y="2140.3">void()&gt;::function_type, boost::signals2::mutex &gt;</text>
</g>
<g id="n32"><rect class="b" x="2338.3" y="2032.7" width="223.5" height="126.6"/><path class="s" d="M2338.3,2115.7h223.5M2338.3,2136h223.5"/>
<text x="2343.8" y="2051">smacc2::SmaccSignal</text>
<text x="2343.8" y="2066">&lt; Signature, Combiner,</text>
<text x="2343.8" y="2081">&#160;Group, GroupCompare,</text>
<text x="2343.8" y="2096">&#160;SlotFunction, ExtendedSlotFunction,</text>
<text class="c" x="2450" y="2111">Mutex &gt;</text>
</g>

<g id="n33"><rect class="b" x="2135.6" y="707.7" width="47.4" height="66.6"/><path class="s" d="M2135.6,730.7h47.4M2135.6,751h47.4"/><text class="c" x="2159.3" y="726">thread</text></g>
<g id="n34"><rect class="b" x="2276" y="707.7" width="101.6" height="66.6"/><path class="s" d="M2276,730.7h101.6M2276,751h101.6"/><text class="c" x="2326.8" y="726">ExecutionModel</text></g>
<g id="n35"><rect class="b" x="2548.5" y="707.7" width="232" height="66.6"/><path class="s" d="M2548.5,730.7h232M2548.5,751h232"/><text class="c" x="2664.5" y="726">vector&lt; smacc2::ISmaccUpdatable * &gt;</text></g>
<g id="n36"><rect class="b" x="2805.3" y="701" width="206.5" height="81.6"/><path class="s" d="M2805.3,739h206.5M2805.3,759.3h206.5"/><text x="2810.8" y="719.3">vector&lt; std::vector</text><text class="c" x="2908.5" y="734.3">&lt; smacc2::ISmaccUpdatable * &gt; &gt;</text></g>
<g id="n37"><rect class="b" x="3035.5" y="707.7" width="111.6" height="66.6"/><path class="s" d="M3035.5,730.7h111.6M3035.5,751h111.6"/><text class="c" x="3091.3" y="726">atomic&lt; int64_t &gt;</text></g>
<g id="n38"><rect class="b" x="3170.8" y="707.7" width="49.4" height="66.6"/><path class="s" d="M3170.8,730.7h49.4M3170.8,751h49.4"/><text class="c" x="3195.5" y="726">double</text></g>
<g id="n39"><rect class="b" x="3246.9" y="707.7" width="95.8" height="66.6"/><path class="s" d="M3246.9,730.7h95.8M3246.9,751h95.8"/><text class="c" x="3294.8" y="726">atomic&lt; bool &gt;</text></g>
<g id="n40"><rect class="b" x="3367.4" y="707.7" width="139.3" height="66.6"/><path class="s" d="M3367.4,730.7h139.3M3367.4,751h139.3"/><text class="c" x="3437" y="726">SmaccFifoScheduler *</text></g>
<g id="n41"><rect class="b" x="3531.4" y="707.7" width="111.6" height="66.6"/><path class="s" d="M3531.4,730.7h111.6M3531.4,751h111.6"/><text class="c" x="3587.2" y="726">processor_handle</text></g>

<g id="n42"><rect class="b" x="2661" y="1333" width="247" height="391.8"/><path class="s" d="M2661,1356h247M2661,1376.5h247"/><text class="c" x="2784.5" y="1351.3">smacc2::SignalDetector</text>
<text x="2667" y="1391.5">+<tspan x="2679.5">SignalDetector()</tspan></text>
<text x="2667" y="1411.9">+<tspan x="2679.5">initialize()</tspan></text>
<text x="2667" y="1432.2">+<tspan x="2679.5">setProcessorHandle()</tspan></text>
<text x="2667" y="1452.6">+<tspan x="2679.5">runThread()</tspan></text>
<text x="2667" y="1472.9">+<tspan x="2679.5">join()</tspan></text>
<text x="2667" y="1493.3">+<tspan x="2679.5">stop()</tspan></text>
<text x="2667" y="1513.7">+<tspan x="2679.5">terminateScheduler()</tspan></text>
<text x="2667" y="1534">+<tspan x="2679.5">pollingLoop()</tspan></text>
<text x="2667" y="1554.4">+<tspan x="2679.5">postEvent()</tspan></text>
<text x="2667" y="1574.7">+<tspan x="2679.5">getNode()</tspan></text>
<text x="2667" y="1595.1">+<tspan x="2679.5">getLogger()</tspan></text>
<text x="2667" y="1615.5">+<tspan x="2679.5">notifyStateConfigured()</tspan></text>
<text x="2667" y="1635.8">+<tspan x="2679.5">notifyStateExited()</tspan></text>
<text x="2667" y="1656.2">+<tspan x="2679.5">notifyRosInitialized()</tspan></text>
<text x="2668" y="1676.5">-<tspan x="2679.5">pollOnce()</tspan></text>
<text x="2668" y="1696.9">-<tspan x="2679.5">findUpdatableClientsAndComponents()</tspan></text>
<text x="2668" y="1717.3">-<tspan x="2679.5">findUpdatableStateElements()</tspan></text>
</g>
</svg>
